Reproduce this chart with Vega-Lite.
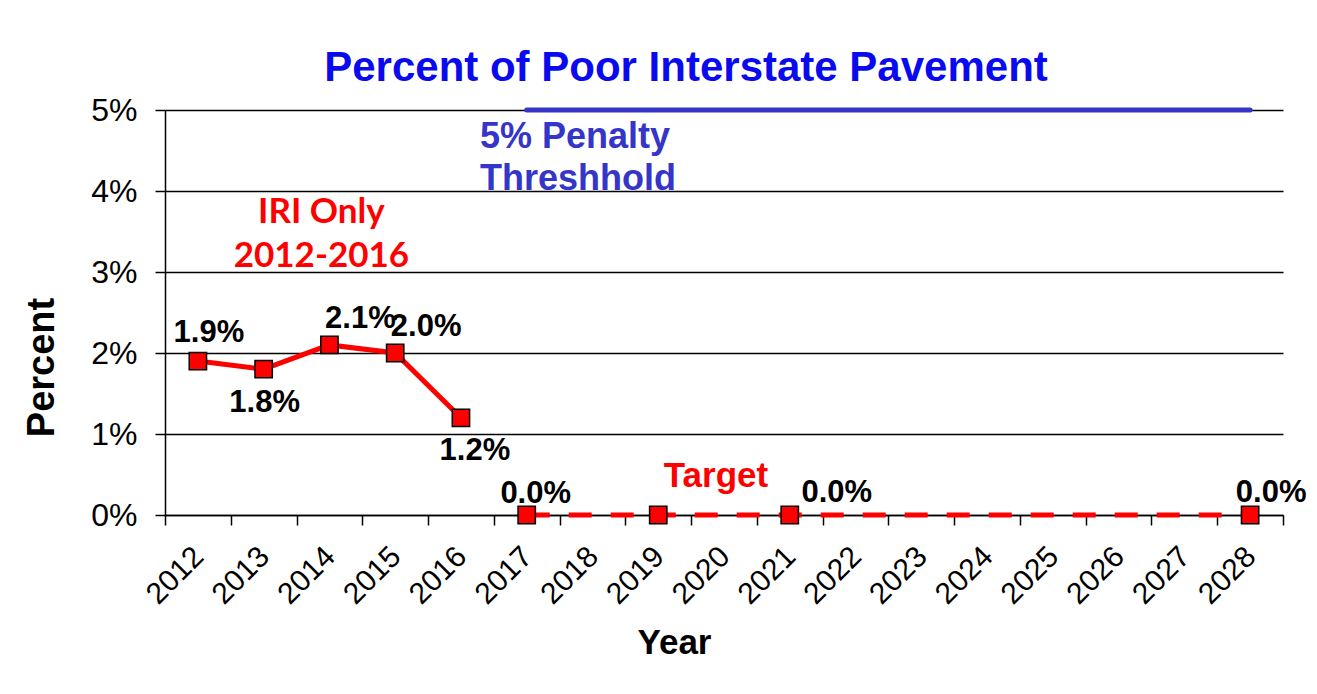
{
  "$schema": "https://vega.github.io/schema/vega-lite/v6.json",
  "width": 1118,
  "height": 405,
  "autosize": {"type": "none"},
  "padding": {"left": 165, "top": 110, "right": 34, "bottom": 179},
  "background": "white",
  "title": {
    "text": "Percent of Poor Interstate Pavement",
    "font": "Liberation Sans",
    "fontSize": 42,
    "fontWeight": "bold",
    "color": "#0a0aee",
    "anchor": "middle",
    "frame": "group",
    "dx": -38,
    "baseline": "alphabetic",
    "offset": -29
  },
  "datasets": {
    "actual": [
      {"Year": "2012", "Percent": 1.9},
      {"Year": "2013", "Percent": 1.8},
      {"Year": "2014", "Percent": 2.1},
      {"Year": "2015", "Percent": 2.0},
      {"Year": "2016", "Percent": 1.2}
    ],
    "target": [
      {"Year": "2017", "Percent": 0},
      {"Year": "2018", "Percent": 0},
      {"Year": "2019", "Percent": 0},
      {"Year": "2020", "Percent": 0},
      {"Year": "2021", "Percent": 0},
      {"Year": "2022", "Percent": 0},
      {"Year": "2023", "Percent": 0},
      {"Year": "2024", "Percent": 0},
      {"Year": "2025", "Percent": 0},
      {"Year": "2026", "Percent": 0},
      {"Year": "2027", "Percent": 0},
      {"Year": "2028", "Percent": 0}
    ],
    "threshold": [
      {"Year": "2017", "Percent": 5},
      {"Year": "2028", "Percent": 5}
    ],
    "notes": [
      {"Year": "2014", "Percent": 3.6, "text": "IRI Only", "group": "iri"},
      {"Year": "2014", "Percent": 3.06, "text": "2012-2016", "group": "iri"},
      {"Year": "2016", "Percent": 4.53, "text": "5% Penalty", "group": "thr"},
      {"Year": "2016", "Percent": 4.01, "text": "Threshhold", "group": "thr"},
      {"Year": "2020", "Percent": 0.35, "text": "Target", "group": "tgt"}
    ]
  },
  "encoding": {
    "x": {
      "field": "Year",
      "type": "ordinal",
      "scale": {
        "domain": ["2012","2013","2014","2015","2016","2017","2018","2019","2020","2021","2022","2023","2024","2025","2026","2027","2028"],
        "paddingInner": 0,
        "paddingOuter": 0
      },
      "axis": {
        "title": "Year",
        "titleFont": "Liberation Sans",
        "titleFontSize": 35,
        "titleFontWeight": "bold",
        "titleColor": "black",
        "titleX": 509,
        "titleY": 138,
        "titleBaseline": "alphabetic",
        "titleAlign": "center",
        "labelFont": "Liberation Sans",
        "labelFontSize": 30,
        "labelColor": "black",
        "labelAngle": -45,
        "labelAlign": "right",
        "labelBaseline": "top",
        "labelOffset": -10,
        "labelPadding": 16,
        "tickBand": "extent",
        "tickSize": 10,
        "tickColor": "black",
        "tickWidth": 1.5,
        "domainColor": "black",
        "domainWidth": 1.5,
        "grid": false
      }
    },
    "y": {
      "field": "Percent",
      "type": "quantitative",
      "scale": {"domain": [0, 5], "nice": false, "zero": true},
      "axis": {
        "title": "Percent",
        "titleFont": "Liberation Sans",
        "titleFontSize": 38,
        "titleFontWeight": "bold",
        "titleColor": "black",
        "titleAngle": -90,
        "titleX": -112,
        "titleY": 257,
        "titleBaseline": "alphabetic",
        "titleAlign": "center",
        "values": [0, 1, 2, 3, 4, 5],
        "labelExpr": "datum.value + '%'",
        "labelFont": "Liberation Sans",
        "labelFontSize": 32,
        "labelColor": "black",
        "labelPadding": 18,
        "tickSize": 10,
        "tickColor": "black",
        "tickWidth": 1.5,
        "domainColor": "black",
        "domainWidth": 1.5,
        "grid": true,
        "gridColor": "black",
        "gridWidth": 1.5,
        "gridOpacity": 1
      }
    }
  },
  "layer": [
    {
      "data": {"name": "threshold"},
      "mark": {"type": "line", "color": "#3535c8", "strokeWidth": 5, "strokeCap": "round"}
    },
    {
      "data": {"name": "target"},
      "mark": {"type": "line", "color": "#ff0000", "strokeWidth": 5, "strokeDash": [23, 19], "strokeCap": "butt"}
    },
    {
      "data": {"name": "actual"},
      "mark": {"type": "line", "color": "#ff0000", "strokeWidth": 5}
    },
    {
      "data": {"name": "actual"},
      "mark": {"type": "point", "shape": "square", "size": 300, "filled": true, "fill": "#ff0000", "stroke": "black", "strokeWidth": 1.5, "opacity": 1}
    },
    {
      "data": {"name": "target"},
      "transform": [{"filter": "indexof(['2017','2019','2021','2028'], datum.Year) >= 0"}],
      "mark": {"type": "point", "shape": "square", "size": 300, "filled": true, "fill": "#ff0000", "stroke": "black", "strokeWidth": 1.5, "opacity": 1}
    },
    {
      "data": {"name": "actual"},
      "transform": [{"filter": "datum.Year == '2012'"}, {"calculate": "format(datum.Percent, '.1f') + '%'", "as": "label"}],
      "mark": {"type": "text", "font": "Liberation Sans", "fontSize": 31, "fontWeight": "bold", "color": "black", "align": "center", "baseline": "alphabetic", "dx": 11, "dy": -19},
      "encoding": {"text": {"field": "label"}}
    },
    {
      "data": {"name": "actual"},
      "transform": [{"filter": "datum.Year == '2014' || datum.Year == '2015'"}, {"calculate": "format(datum.Percent, '.1f') + '%'", "as": "label"}],
      "mark": {"type": "text", "font": "Liberation Sans", "fontSize": 31, "fontWeight": "bold", "color": "black", "align": "center", "baseline": "alphabetic", "dx": 31, "dy": -17},
      "encoding": {"text": {"field": "label"}}
    },
    {
      "data": {"name": "actual"},
      "transform": [{"filter": "datum.Year == '2013'"}, {"calculate": "format(datum.Percent, '.1f') + '%'", "as": "label"}],
      "mark": {"type": "text", "font": "Liberation Sans", "fontSize": 31, "fontWeight": "bold", "color": "black", "align": "center", "baseline": "alphabetic", "dx": 1, "dy": 43},
      "encoding": {"text": {"field": "label"}}
    },
    {
      "data": {"name": "actual"},
      "transform": [{"filter": "datum.Year == '2016'"}, {"calculate": "format(datum.Percent, '.1f') + '%'", "as": "label"}],
      "mark": {"type": "text", "font": "Liberation Sans", "fontSize": 31, "fontWeight": "bold", "color": "black", "align": "center", "baseline": "alphabetic", "dx": 14, "dy": 42},
      "encoding": {"text": {"field": "label"}}
    },
    {
      "data": {"name": "target"},
      "transform": [{"filter": "datum.Year == '2017'"}, {"calculate": "format(datum.Percent, '.1f') + '%'", "as": "label"}],
      "mark": {"type": "text", "font": "Liberation Sans", "fontSize": 31, "fontWeight": "bold", "color": "black", "align": "center", "baseline": "alphabetic", "dx": 9, "dy": -12},
      "encoding": {"text": {"field": "label"}}
    },
    {
      "data": {"name": "target"},
      "transform": [{"filter": "datum.Year == '2021'"}, {"calculate": "format(datum.Percent, '.1f') + '%'", "as": "label"}],
      "mark": {"type": "text", "font": "Liberation Sans", "fontSize": 31, "fontWeight": "bold", "color": "black", "align": "center", "baseline": "alphabetic", "dx": 47, "dy": -13},
      "encoding": {"text": {"field": "label"}}
    },
    {
      "data": {"name": "target"},
      "transform": [{"filter": "datum.Year == '2028'"}, {"calculate": "format(datum.Percent, '.1f') + '%'", "as": "label"}],
      "mark": {"type": "text", "font": "Liberation Sans", "fontSize": 31, "fontWeight": "bold", "color": "black", "align": "center", "baseline": "alphabetic", "dx": 21, "dy": -13},
      "encoding": {"text": {"field": "label"}}
    },
    {
      "data": {"name": "notes"},
      "transform": [{"filter": "datum.group == 'iri'"}],
      "mark": {"type": "text", "font": "Lato", "fontSize": 35, "fontWeight": "bold", "color": "#ff0000", "align": "center", "baseline": "alphabetic", "dx": -8},
      "encoding": {"text": {"field": "text"}}
    },
    {
      "data": {"name": "notes"},
      "transform": [{"filter": "datum.group == 'thr'"}],
      "mark": {"type": "text", "font": "Liberation Sans", "fontSize": 36, "fontWeight": "bold", "color": "#3535c8", "align": "left", "baseline": "alphabetic", "dx": 19},
      "encoding": {"text": {"field": "text"}}
    },
    {
      "data": {"name": "notes"},
      "transform": [{"filter": "datum.group == 'tgt'"}],
      "mark": {"type": "text", "font": "Liberation Sans", "fontSize": 35, "fontWeight": "bold", "color": "#ff0000", "align": "center", "baseline": "alphabetic", "dx": -8},
      "encoding": {"text": {"field": "text"}}
    }
  ],
  "config": {
    "view": {"stroke": null}
  }
}
